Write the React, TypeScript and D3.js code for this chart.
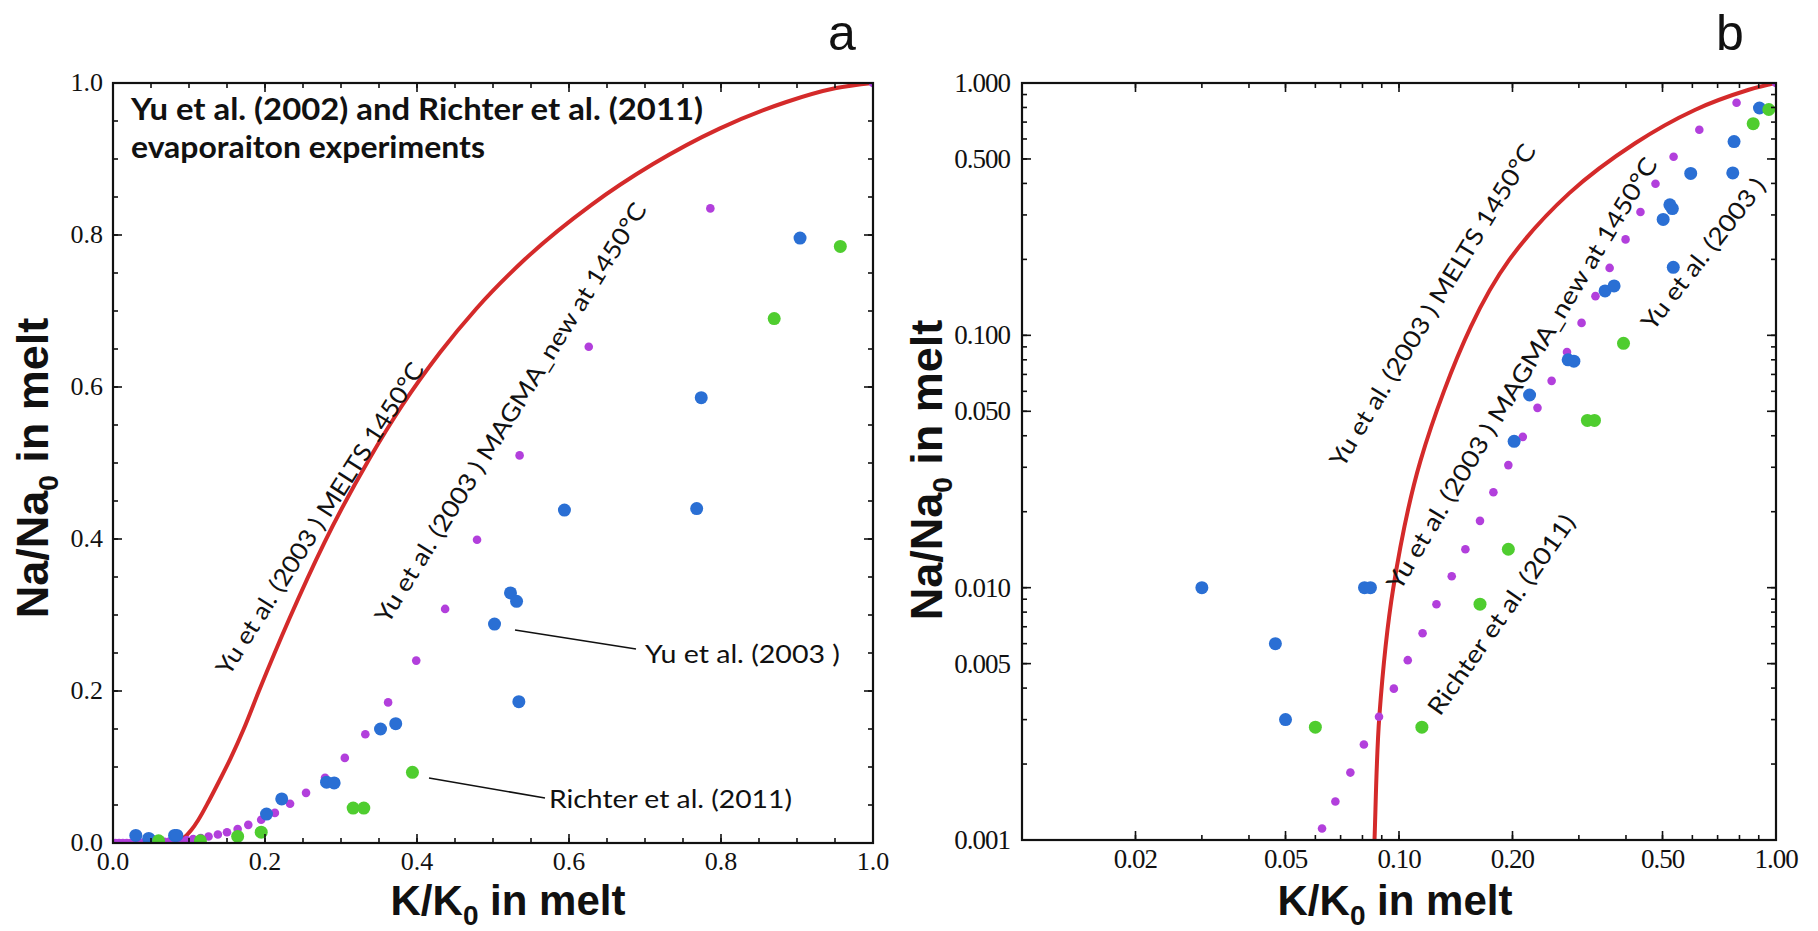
import * as d3 from "d3";
import React from "react";

// Yu et al. (2003) experiments (blue)
const yuX = [0.030, 0.047, 0.050, 0.081, 0.084, 0.202, 0.222, 0.281, 0.291, 0.352, 0.372, 0.502, 0.523, 0.531, 0.534, 0.594, 0.768, 0.774, 0.904];
const yuY = [0.010, 0.006, 0.003, 0.010, 0.010, 0.038, 0.058, 0.080, 0.079, 0.150, 0.157, 0.288, 0.329, 0.318, 0.186, 0.438, 0.440, 0.586, 0.796];

// Richter et al. (2011) experiments (green)
const richterX = [0.060, 0.115, 0.164, 0.195, 0.316, 0.330, 0.394, 0.870, 0.957];
const richterY = [0.0028, 0.0028, 0.0086, 0.0142, 0.046, 0.046, 0.093, 0.690, 0.785];

// MAGMA_new model at 1450°C (purple dots)
const magmaX = [0.003, 0.008, 0.013, 0.018, 0.023, 0.028, 0.033, 0.038, 0.043, 0.048, 0.053, 0.058,
  0.0625, 0.0678, 0.0743, 0.0807, 0.0885, 0.0969, 0.1055, 0.1155, 0.1257, 0.138, 0.150, 0.164, 0.178, 0.195,
  0.213, 0.233, 0.254, 0.279, 0.305, 0.332, 0.362, 0.399, 0.437, 0.479, 0.535, 0.626, 0.786, 1.0];
const magmaY = [0.00001, 0.00002, 0.00003, 0.00005, 0.00007, 0.0001, 0.00015, 0.0002, 0.0003, 0.0004, 0.0006, 0.0008,
  0.00111, 0.00142, 0.00185, 0.00239, 0.00308, 0.00398, 0.00516, 0.0066, 0.0086, 0.0111, 0.0142, 0.0184, 0.0239, 0.0306,
  0.0396, 0.0516, 0.066, 0.0859, 0.112, 0.143, 0.185, 0.240, 0.308, 0.399, 0.510, 0.653, 0.835, 1.0];

// MELTS model at 1450°C (red curve)
const meltsX = [0.0855, 0.0875, 0.092, 0.0967, 0.103, 0.112, 0.126, 0.140, 0.155, 0.172, 0.192,
  0.232, 0.278, 0.337, 0.380, 0.430, 0.478, 0.542, 0.630, 0.710, 0.798, 0.886, 0.950, 1.0];
const meltsY = [0, 0.002, 0.006, 0.010, 0.017, 0.030, 0.055, 0.082, 0.112, 0.150, 0.200,
  0.295, 0.395, 0.505, 0.575, 0.645, 0.703, 0.768, 0.840, 0.893, 0.940, 0.975, 0.993, 1.0];

// same curve
const meltsLogX = [0.0855, 0.0861, 0.0887, 0.0966, 0.114, 0.155, 0.196, 0.283, 0.423, 0.609, 0.847, 1.0];
const meltsLogY = [0.00079, 0.001, 0.0031, 0.010, 0.0318, 0.108, 0.199, 0.366, 0.577, 0.782, 0.940, 1.0];

const linTicks = [0, 0.2, 0.4, 0.6, 0.8, 1.0];
const linLabels = ["0.0", "0.2", "0.4", "0.6", "0.8", "1.0"];
const logXTicks = [0.02, 0.05, 0.1, 0.2, 0.5, 1];
const logXLabels = ["0.02", "0.05", "0.10", "0.20", "0.50", "1.00"];
const logYTicks = [0.001, 0.005, 0.01, 0.05, 0.1, 0.5, 1];
const logYLabels = ["0.001", "0.005", "0.010", "0.050", "0.100", "0.500", "1.000"];

const BLUE = "#2a6fd4";
const GREEN = "#4fcd2f";
const PURPLE = "#b23fdc";
const RED = "#d42a2a";

const serif = "'Liberation Serif', 'Times New Roman', serif";
const sans = "'Liberation Sans', Arial, sans-serif";
const label = "Lato, 'Open Sans', sans-serif";

type Sc = ((v: number) => number) & { domain: () => number[] };

function Frame({ x, y, major, minor }: { x: Sc; y: Sc; major: { xs: number[]; ys: number[] }; minor: { xs: number[]; ys: number[] } }) {
  const [x0, x1] = x.domain().map(x);
  const [y0, y1] = y.domain().map(y);
  const tk = (len: number, vals: number[]) =>
    vals.map((v, i) => (
      <g key={len + "x" + i}>
        <line x1={x(v)} x2={x(v)} y1={y0} y2={y0 - len} />
        <line x1={x(v)} x2={x(v)} y1={y1} y2={y1 + len} />
      </g>
    ));
  const tky = (len: number, vals: number[]) =>
    vals.map((v, i) => (
      <g key={len + "y" + i}>
        <line y1={y(v)} y2={y(v)} x1={x0} x2={x0 + len} />
        <line y1={y(v)} y2={y(v)} x1={x1} x2={x1 - len} />
      </g>
    ));
  return (
    <g stroke="#111" strokeWidth={1.6}>
      {tk(5, minor.xs)}
      {tk(9, major.xs)}
      {tky(5, minor.ys)}
      {tky(9, major.ys)}
      <rect x={x0} y={y1} width={x1 - x0} height={y0 - y1} fill="none" strokeWidth={2.2} />
    </g>
  );
}

function Marks({ x, y, log, clip, cx, cy }: { x: Sc; y: Sc; log: boolean; clip: string; cx: number[]; cy: number[] }) {
  const ok = (xv: number, yv: number) => !log || (xv > 0 && yv > 0);
  const idx = cx.map((_, i) => i).filter((i) => ok(cx[i], cy[i]));
  const line = d3
    .line<number>()
    .x((i) => x(cx[i]))
    .y((i) => y(cy[i]))
    .curve(log ? d3.curveCatmullRom.alpha(0.5) : d3.curveMonotoneX);
  return (
    <g clipPath={`url(#${clip})`}>
      <path d={line(idx) || ""} fill="none" stroke={RED} strokeWidth={4} />
      {magmaX.map((v, i) =>
        ok(v, magmaY[i]) ? <circle key={"m" + i} cx={x(v)} cy={y(magmaY[i])} r={4.3} fill={PURPLE} /> : null
      )}
      {yuX.map((v, i) => (
        <circle key={"y" + i} cx={x(v)} cy={y(yuY[i])} r={6.5} fill={BLUE} />
      ))}
      {richterX.map((v, i) => (
        <circle key={"r" + i} cx={x(v)} cy={y(richterY[i])} r={6.5} fill={GREEN} />
      ))}
    </g>
  );
}

function Rot({ x, y, angle, len, size, children }: { x: number; y: number; angle: number; len: number; size: number; children: string }) {
  return (
    <text
      transform={`translate(${x},${y}) rotate(${-angle})`}
      fontFamily={label}
      fontSize={size}
      textLength={len}
      lengthAdjust="spacingAndGlyphs"
      fill="#111"
    >
      {children}
    </text>
  );
}

function Title({ x, y, rotate, base }: { x: number; y: number; rotate: boolean; base: string }) {
  return (
    <text
      transform={`translate(${x},${y})${rotate ? " rotate(-90)" : ""}`}
      textAnchor="middle"
      fontFamily={sans}
      fontWeight={700}
      fontSize={rotate ? 45 : 42}
      fill="#111"
    >
      {base}
      <tspan fontSize={28} dy={10}>0</tspan>
      <tspan dy={-10}> in melt</tspan>
    </text>
  );
}

export default function App() {
  const xa = d3.scaleLinear().domain([0, 1]).range([113, 873]) as unknown as Sc;
  const ya = d3.scaleLinear().domain([0, 1]).range([843, 83]) as unknown as Sc;
  const xbS = d3.scaleLog().domain([0.01, 1]).range([1022, 1776]);
  const ybS = d3.scaleLog().domain([0.001, 1]).range([840, 83]);
  const xb = xbS as unknown as Sc;
  const yb = ybS as unknown as Sc;

  const linMinor = d3.range(0, 1.0001, 0.05);
  const logXMinor = xbS.ticks();
  const logYMinor = ybS.ticks();

  return (
    <div style={{ position: "absolute", left: 0, top: 0 }}>
      <svg width={1818} height={931} viewBox="0 0 1818 931" style={{ display: "block", background: "#fff" }}>
        <defs>
          <clipPath id="clipA">
            <rect x={113} y={83} width={760} height={760} />
          </clipPath>
          <clipPath id="clipB">
            <rect x={1022} y={83} width={754} height={757} />
          </clipPath>
        </defs>

        {/* panel a */}
        <Marks x={xa} y={ya} log={false} clip="clipA" cx={meltsX} cy={meltsY} />
        <Frame x={xa} y={ya} major={{ xs: linTicks, ys: linTicks }} minor={{ xs: linMinor, ys: linMinor }} />
        <g fontFamily={serif} fontSize={26} fill="#111">
          {linTicks.map((v, i) => (
            <text key={"ya" + i} x={103} y={ya(v) + 8} textAnchor="end">{linLabels[i]}</text>
          ))}
          {linTicks.map((v, i) => (
            <text key={"xa" + i} x={xa(v)} y={870} textAnchor="middle">{linLabels[i]}</text>
          ))}
        </g>

        {/* panel b */}
        <Marks x={xb} y={yb} log={true} clip="clipB" cx={meltsLogX} cy={meltsLogY} />
        <Frame x={xb} y={yb} major={{ xs: logXTicks, ys: logYTicks }} minor={{ xs: logXMinor, ys: logYMinor }} />
        <g fontFamily={serif} fontSize={27} fill="#111">
          {logYTicks.map((v, i) => (
            <text key={"yb" + i} x={1010} y={yb(v) + 9} textAnchor="end" letterSpacing={-1}>{logYLabels[i]}</text>
          ))}
          {logXTicks.map((v, i) => (
            <text key={"xb" + i} x={xb(v)} y={868} textAnchor="middle" letterSpacing={-1}>{logXLabels[i]}</text>
          ))}
        </g>

        {/* annotations panel a */}
        <g fontFamily={label} fontWeight={700} fontSize={30} fill="#111">
          <text x={131} y={120} textLength={572} lengthAdjust="spacingAndGlyphs">Yu et al. (2002) and Richter et al. (2011)</text>
          <text x={131} y={158} textLength={354} lengthAdjust="spacingAndGlyphs">evaporaiton experiments</text>
        </g>
        <Rot x={229} y={677} angle={57.5} len={365} size={24}>Yu et al. (2003 ) MELTS 1450°C</Rot>
        <Rot x={388} y={625} angle={58} len={490} size={24}>Yu et al. (2003 ) MAGMA_new at 1450°C</Rot>
        <g fontFamily={label} fontSize={25} fill="#111">
          <text x={645} y={663} textLength={195} lengthAdjust="spacingAndGlyphs">Yu et al. (2003 )</text>
          <text x={549} y={808} textLength={243} lengthAdjust="spacingAndGlyphs">Richter et al. (2011)</text>
        </g>
        <g stroke="#111" strokeWidth={1.5}>
          <line x1={515} y1={630} x2={636} y2={649} />
          <line x1={429} y1={778} x2={545} y2={798} />
        </g>

        {/* annotations panel b */}
        <Rot x={1343} y={469} angle={58.7} len={373} size={24}>Yu et al. (2003 ) MELTS 1450°C</Rot>
        <Rot x={1400} y={592} angle={58.9} len={500} size={24}>Yu et al. (2003 ) MAGMA_new at 1450°C</Rot>
        <Rot x={1653} y={332} angle={52} len={185} size={24}>Yu et al. (2003 )</Rot>
        <Rot x={1440} y={717} angle={55} len={238} size={24}>Richter et al. (2011)</Rot>

        {/* axis titles */}
        <Title x={48} y={468} rotate={true} base="Na/Na" />
        <Title x={942} y={470} rotate={true} base="Na/Na" />
        <Title x={508} y={915} rotate={false} base="K/K" />
        <Title x={1395} y={915} rotate={false} base="K/K" />

        {/* panel letters */}
        <g fontFamily={sans} fontSize={50} fill="#111">
          <text x={828} y={50}>a</text>
          <text x={1716} y={50}>b</text>
        </g>
      </svg>
    </div>
  );
}
